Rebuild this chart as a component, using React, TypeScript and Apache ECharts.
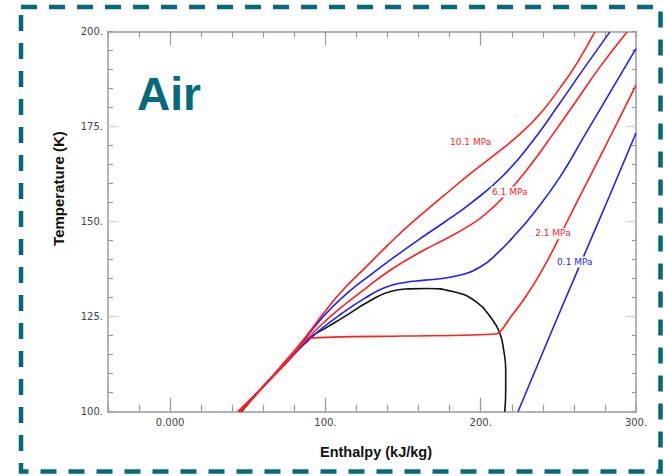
import React, { useEffect, useRef } from "react";
import * as echarts from "echarts";

// Enthalpy (kJ/kg), Temperature (K) pairs
const satDome: number[][] = [
  [46, 100], [59.6, 106.4], [74.9, 112.9], [89.7, 119.3], [100.6, 122.1], [112.3, 125.0],
  [127.1, 128.8], [142.4, 131.7], [154.2, 132.3], [165.2, 132.4], [181.9, 131.6], [197.4, 128.8],
  [207.7, 124.1], [212.3, 120.7], [214.8, 116.2], [216.1, 110.9], [216.1, 105.7], [215.5, 100],
];
const p101: number[][] = [
  [43.5, 100], [59.4, 106.4], [73.5, 113.0], [85.2, 118.6], [99.4, 126.2], [110.1, 131.5],
  [125.2, 137.7], [140.2, 143.8], [155.3, 149.6], [176.8, 157.0], [192.9, 162.5], [210.3, 168.0],
  [225.2, 173.0], [238.1, 178.3], [251, 185.1], [262, 191.7], [273.5, 199.9],
];
const p81: number[][] = [
  [44, 100], [59.4, 106.4], [74.0, 112.9], [85.2, 118.3], [99.4, 125.4], [114.4, 131.3],
  [129.7, 136.2], [144.5, 140.7], [160.6, 145.4], [176.8, 149.9], [192.9, 154.6], [214.2, 162.0],
  [233.5, 171.2], [251, 181.2], [265.8, 189.9], [283.2, 199.9],
];
const p61: number[][] = [
  [44.5, 100], [59.4, 106.4], [74.4, 112.9], [85.8, 118.0], [97.2, 122.8], [108, 126.7],
  [123, 131.5], [142.4, 137.4], [163.9, 142.6], [176.8, 145.3], [189.7, 148.2], [202.6, 151.8],
  [216.8, 157.4], [231.6, 164.6], [246.5, 173.0], [262, 182.0], [276.8, 190.7], [294.2, 199.9],
];
const p41: number[][] = [
  [45, 100], [59.4, 106.4], [74.6, 112.9], [86.5, 117.8], [97.2, 121.7], [110.1, 125.7],
  [125.2, 129.8], [138, 132.6], [151, 134.0], [163.9, 134.6], [181.9, 135.5], [199.4, 138.0],
  [212.3, 142.3], [223.2, 147.0], [232.9, 151.6], [251, 161.7], [267.1, 172.8], [283.2, 183.9],
  [300, 195.5],
];
const p21: number[][] = [
  [45.5, 100], [59.6, 106.4], [74.8, 112.9], [89.7, 119.3], [150, 119.9], [210.3, 120.5],
  [218.7, 124.6], [228.4, 129.9], [238.1, 136.2], [246.5, 142.5], [254.8, 149.3], [263.9, 156.7],
  [276.8, 167.0], [289.7, 177.5], [300, 185.9],
];
const p01: number[][] = [
  [224, 100], [244, 119.5], [264, 138.7], [283, 156.8], [300, 173.3],
];

const curveNames = ["10.1 MPa", "6.1 MPa", "2.1 MPa", "0.1 MPa"];
const curveLabelAt: number[][] = [[193.5, 170.9], [218.7, 157.8], [246.5, 146.9], [260.6, 139.4]];

const xLabelValues = [0, 100, 200, 300];
const xLabelTexts = ["0.000", "100.", "200.", "300."];
const xMajorTicks = [0, 100, 200];
const yLabelValues = [100, 125, 150, 175, 200];
const yMajorTicks = [125, 150, 175];

const RED = "#ff1f1f";
const BLUE = "#1f1fff";
const TEAL = "#05697a";
const AXIS = "#9a9a9a";

export default function App() {
  const ref = useRef<HTMLDivElement>(null);
  useEffect(() => {
    if (!ref.current) return;
    const chart = echarts.init(ref.current, null, { renderer: "svg" });
    const common = { min: -40, max: 300, type: "value" as const, splitLine: { show: false } };
    const ycommon = { min: 100, max: 200, type: "value" as const, splitLine: { show: false } };
    const line = (name: string, data: number[][], color: string, labelIdx: number, z: number, smooth: number) => ({
      type: "line",
      name,
      data,
      smooth,
      symbol: "none",
      z,
      lineStyle: { color, width: 1.6 },
      markPoint:
        labelIdx >= 0
          ? {
              symbol: "rect",
              symbolSize: 0,
              data: [{ coord: curveLabelAt[labelIdx], value: curveNames[labelIdx] }],
              label: {
                show: true,
                position: "inside",
                formatter: curveNames[labelIdx],
                color,
                fontSize: 9,
                fontFamily: "DejaVu Sans",
                backgroundColor: "#fff",
                padding: [1, 1],
              },
            }
          : undefined,
    });
    const axLine = { onZero: false, lineStyle: { color: AXIS, width: 1.5 } };
    chart.setOption({
      animation: false,
      backgroundColor: "#fff",
      grid: { left: 108, right: 28, top: 31.5, bottom: 64.3 },
      xAxis: [
        {
          ...common,
          position: "bottom",
          interval: 20,
          axisLine: axLine,
          axisTick: { inside: true, length: 7, lineStyle: { color: AXIS, width: 1.2 } },
          axisLabel: {
            customValues: xLabelValues,
            formatter: (v: number) => xLabelTexts[xLabelValues.indexOf(v)] ?? "",
            color: "#444",
            fontSize: 10,
            fontFamily: "DejaVu Sans",
            margin: 6,
          },
        },
        {
          ...common,
          position: "bottom",
          axisLine: { show: false, onZero: false },
          axisTick: { inside: true, length: 14, customValues: xMajorTicks, lineStyle: { color: AXIS, width: 1.2 } },
          axisLabel: { show: false },
        },
        {
          ...common,
          position: "top",
          interval: 20,
          axisLine: axLine,
          axisTick: { inside: true, length: 6, lineStyle: { color: AXIS, width: 1.2 } },
          axisLabel: { show: false },
        },
        {
          ...common,
          position: "top",
          axisLine: { show: false, onZero: false },
          axisTick: { inside: true, length: 14, customValues: xMajorTicks, lineStyle: { color: AXIS, width: 1.2 } },
          axisLabel: { show: false },
        },
      ],
      yAxis: [
        {
          ...ycommon,
          position: "left",
          interval: 5,
          axisLine: { show: true, ...axLine },
          axisTick: { show: true, inside: true, length: 5, lineStyle: { color: AXIS, width: 1.2 } },
          axisLabel: {
            customValues: yLabelValues,
            formatter: (v: number) => v + ".",
            color: "#444",
            fontSize: 10,
            fontFamily: "DejaVu Sans",
            margin: 5,
          },
        },
        {
          ...ycommon,
          position: "left",
          axisLine: { show: false, onZero: false },
          axisTick: { show: true, inside: true, length: 10, customValues: yMajorTicks, lineStyle: { color: "#d0d0d0", width: 1.2 } },
          axisLabel: { show: false },
        },
        {
          ...ycommon,
          position: "right",
          interval: 5,
          axisLine: { show: true, ...axLine },
          axisTick: { show: true, inside: true, length: 4, lineStyle: { color: AXIS, width: 1.2 } },
          axisLabel: { show: false },
        },
        {
          ...ycommon,
          position: "right",
          axisLine: { show: false, onZero: false },
          axisTick: { show: true, inside: true, length: 10, customValues: yMajorTicks, lineStyle: { color: "#d0d0d0", width: 1.2 } },
          axisLabel: { show: false },
        },
      ],
      series: [
        line("dome", satDome, "#111", -1, 2, 0.5),
        line("8.1", p81, BLUE, -1, 3, 0.5),
        line("4.1", p41, BLUE, -1, 3, 0.5),
        line("0.1", p01, BLUE, 3, 3, 0.5),
        line("10.1", p101, RED, 0, 4, 0.5),
        line("6.1", p61, RED, 1, 4, 0.5),
        line("2.1", p21, RED, 2, 4, 0.25),
      ],
      graphic: [
        {
          type: "rect",
          shape: { x: 21, y: 7, width: 639.5, height: 464.5 },
          style: { fill: "none", stroke: TEAL, lineWidth: 4.5, lineDash: [16, 12] },
          z: 10,
        },
        {
          type: "text",
          x: 137,
          y: 94,
          style: {
            text: "Air",
            fill: TEAL,
            fontSize: 46,
            fontWeight: "bold",
            fontFamily: "Liberation Sans",
            align: "left",
            verticalAlign: "middle",
          },
          z: 10,
        },
        {
          type: "text",
          x: 376,
          y: 452,
          style: {
            text: "Enthalpy (kJ/kg)",
            fill: "#111",
            fontSize: 14.5,
            fontWeight: "bold",
            fontFamily: "Liberation Sans",
            align: "center",
            verticalAlign: "middle",
          },
          z: 10,
        },
        {
          type: "text",
          x: 58,
          y: 188.5,
          rotation: Math.PI / 2,
          style: {
            text: "Temperature (K)",
            fill: "#111",
            fontSize: 15,
            fontWeight: "bold",
            fontFamily: "Liberation Sans",
            align: "center",
            verticalAlign: "middle",
          },
          z: 10,
        },
      ],
    });
    return () => chart.dispose();
  }, []);
  return <div ref={ref} style={{ position: "fixed", left: 0, top: 0, width: 664, height: 476 }} />;
}
